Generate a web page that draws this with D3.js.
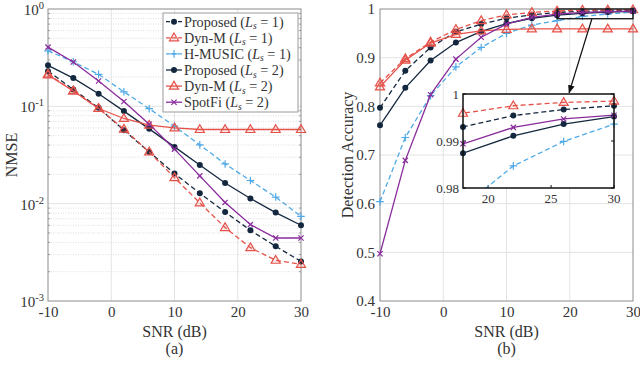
<!DOCTYPE html>
<html><head><meta charset="utf-8">
<script src="https://cdn.jsdelivr.net/npm/d3@7"></script>
<style>
body{margin:0;background:#fff}
svg text{font-family:"Liberation Serif","Times New Roman",serif;fill:#333}
</style></head><body>
<svg id="c" width="640" height="391"></svg>
<script>
const snr = [-10,-6,-2,2,6,10,14,18,22,26,30];
// (a) NMSE
const nmseProp1 = [0.230,0.149,0.0966,0.0569,0.034,0.0204,0.0128,0.0082,0.00532,0.00365,0.00255];
const nmseDyn1  = [0.214,0.144,0.095,0.0583,0.034,0.0185,0.0102,0.00568,0.00353,0.00262,0.00238];
const nmseHM1   = [0.372,0.287,0.213,0.141,0.0946,0.0626,0.0402,0.0256,0.0173,0.0117,0.0074];
const nmseProp2 = [0.264,0.195,0.1345,0.0893,0.0587,0.0383,0.025,0.0163,0.0113,0.0081,0.006];
const nmseDyn2  = [0.210,0.144,0.095,0.075,0.064,0.060,0.0578,0.0578,0.0578,0.0578,0.0578];
const nmseSpot2 = [0.406,0.285,0.182,0.112,0.0656,0.0363,0.0193,0.0103,0.0061,0.00444,0.00444];
// (b) Detection accuracy
const accProp1 = [0.797,0.873,0.921,0.953,0.969,0.981,0.988,0.9930,0.9954,0.9967,0.9975];
const accDyn1  = [0.848,0.898,0.932,0.958,0.976,0.988,0.993,0.9959,0.9975,0.9982,0.9985];
const accHM1   = [0.604,0.736,0.822,0.881,0.921,0.950,0.967,0.976,0.9847,0.9899,0.9936];
const accProp2 = [0.761,0.838,0.894,0.931,0.954,0.970,0.981,0.9874,0.9911,0.9936,0.9952];
const accDyn2  = [0.840,0.895,0.930,0.948,0.955,0.958,0.959,0.959,0.959,0.959,0.959];
const accSpot2 = [0.497,0.689,0.824,0.897,0.942,0.969,0.983,0.9894,0.9929,0.9947,0.9955];

const xTicks = [-10,0,10,20,30];
const yTicksNmse = [1e-3,1e-2,1e-1,1];
const yTicksAcc = [0.4,0.5,0.6,0.7,0.8,0.9,1];
const insetXTicks = [20,25,30];
const insetYTicks = [0.98,0.99,1];

const C = {navy:"#13283f", red:"#e5524a", blue:"#4fa9e6", purple:"#8a2c9c"};
const seriesA = [
  {name:"Proposed", ls:"1", v:nmseProp1, acc:accProp1, color:C.navy, dash:"5,3", mk:"circle"},
  {name:"Dyn-M", ls:"1", v:nmseDyn1, acc:accDyn1, color:C.red, dash:"5,3", mk:"tri"},
  {name:"H-MUSIC", ls:"1", v:nmseHM1, acc:accHM1, color:C.blue, dash:"5,3", mk:"plus"},
  {name:"Proposed", ls:"2", v:nmseProp2, acc:accProp2, color:C.navy, dash:null, mk:"circle"},
  {name:"Dyn-M", ls:"2", v:nmseDyn2, acc:accDyn2, color:C.red, dash:null, mk:"tri"},
  {name:"SpotFi", ls:"2", v:nmseSpot2, acc:accSpot2, color:C.purple, dash:null, mk:"x"}
];

const svg = d3.select("#c");
const defs = svg.append("defs");
const gridC = "#e3e3e3", axC = "#8c8c8c";
const TF = 15, LF = 16;

function marker(g, type, x, y, color, s){
  s = s||1;
  if(type==="circle") g.append("circle").attr("cx",x).attr("cy",y).attr("r",3*s).attr("fill",color);
  else if(type==="tri"){
    const r=4.8*s;
    g.append("path").attr("d",`M${x},${y-r}L${x+r*0.95},${y+r*0.62}L${x-r*0.95},${y+r*0.62}Z`)
      .attr("fill","rgba(229,82,74,0.12)").attr("stroke",color).attr("stroke-width",1.2);
  } else if(type==="plus"){
    const r=3.8*s;
    g.append("path").attr("d",`M${x-r},${y}H${x+r}M${x},${y-r}V${y+r}`).attr("stroke",color).attr("stroke-width",1.2);
  } else if(type==="x"){
    const r=2.6*s;
    g.append("path").attr("d",`M${x-r},${y-r}L${x+r},${y+r}M${x-r},${y+r}L${x+r},${y-r}`).attr("stroke",color).attr("stroke-width",1.2);
  }
}
function drawSeries(g, xs, ys, key){
  const gg = g.append("g");
  seriesA.forEach(s=>{
    const vals = s[key];
    gg.append("path").attr("d",d3.line()(snr.map((d,i)=>[xs(d),ys(vals[i])])))
      .attr("fill","none").attr("stroke",s.color).attr("stroke-width",1.3)
      .attr("stroke-dasharray",s.dash);
    snr.forEach((d,i)=>marker(gg,s.mk,xs(d),ys(vals[i]),s.color));
  });
}

// ---------- (a) ----------
const xL = d3.scaleLinear().domain([-10,30]).range([48,301]);
const yL = d3.scaleLog().domain([1e-3,1]).range([301,9]);
const ga = svg.append("g");
for(let e=-3;e<0;e++) for(let m=2;m<10;m++){
  const v=m*Math.pow(10,e);
  ga.append("line").attr("x1",xL(-10)).attr("x2",xL(30)).attr("y1",yL(v)).attr("y2",yL(v))
    .attr("stroke","#d6d6d6").attr("stroke-dasharray","1,1.5").attr("stroke-width",0.8);
  [xL(-10),xL(30)].forEach((x,k)=>{
    ga.append("line").attr("x1",x).attr("x2",x+(k?-2:2)).attr("y1",yL(v)).attr("y2",yL(v)).attr("stroke",axC).attr("stroke-width",0.8);
  });
}
yTicksNmse.slice(1,-1).forEach(v=>{
  ga.append("line").attr("x1",xL(-10)).attr("x2",xL(30)).attr("y1",yL(v)).attr("y2",yL(v)).attr("stroke",gridC);
});
xTicks.slice(1,-1).forEach(v=>{
  ga.append("line").attr("y1",yL(1e-3)).attr("y2",yL(1)).attr("x1",xL(v)).attr("x2",xL(v)).attr("stroke",gridC);
});
ga.append("rect").attr("x",xL(-10)).attr("y",yL(1)).attr("width",xL(30)-xL(-10)).attr("height",yL(1e-3)-yL(1))
  .attr("fill","none").attr("stroke",axC).attr("stroke-width",1);
const axLb = ga.append("g").attr("transform",`translate(0,${yL(1e-3)})`).call(d3.axisBottom(xL).tickValues(xTicks).tickSize(0).tickPadding(5).tickFormat(d=>d));
axLb.select(".domain").remove();
axLb.selectAll("text").attr("font-size",TF).attr("font-family","Liberation Serif").attr("fill","#333");
yTicksNmse.forEach(v=>{
  const e=Math.round(Math.log10(v));
  const t=ga.append("text").attr("x",xL(-10)-4).attr("y",yL(v)+6).attr("text-anchor","end").attr("font-size",TF);
  t.append("tspan").text("10");
  t.append("tspan").attr("dy",-6).attr("font-size",10.5).text(e);
});
ga.append("text").attr("transform",`translate(17,${(yL(1)+yL(1e-3))/2}) rotate(-90)`).attr("text-anchor","middle").attr("font-size",LF).text("NMSE");
ga.append("text").attr("x",(xL(-10)+xL(30))/2).attr("y",337).attr("text-anchor","middle").attr("font-size",LF).text("SNR (dB)");
ga.append("text").attr("x",(xL(-10)+xL(30))/2).attr("y",354).attr("text-anchor","middle").attr("font-size",LF).text("(a)");
drawSeries(ga,xL,yL,"v");

// legend
const lg = ga.append("g");
lg.append("rect").attr("x",163).attr("y",13).attr("width",135).attr("height",99).attr("fill","#fff").attr("stroke","#9a9a9a").attr("stroke-width",1);
seriesA.forEach((s,i)=>{
  const y=21.7+i*16.1;
  lg.append("line").attr("x1",166).attr("x2",182).attr("y1",y).attr("y2",y).attr("stroke",s.color).attr("stroke-width",1.3).attr("stroke-dasharray",s.dash?"4,2":null);
  marker(lg,s.mk,174,y,s.color);
  const t=lg.append("text").attr("x",184).attr("y",y+5).attr("font-size",14.2).attr("fill","#222");
  t.append("tspan").text(s.name+" (");
  t.append("tspan").attr("font-style","italic").text("L");
  t.append("tspan").attr("font-size",9.5).attr("font-style","italic").attr("dy",2.5).text("s");
  t.append("tspan").attr("dy",-2.5).text(" = "+s.ls+")");
});

// ---------- (b) ----------
const xR = d3.scaleLinear().domain([-10,30]).range([380,633]);
const yR = d3.scaleLinear().domain([0.4,1]).range([301,9]);
const gb = svg.append("g");
yTicksAcc.slice(1,-1).forEach(v=>{
  gb.append("line").attr("x1",xR(-10)).attr("x2",xR(30)).attr("y1",yR(v)).attr("y2",yR(v)).attr("stroke",gridC);
});
xTicks.slice(1,-1).forEach(v=>{
  gb.append("line").attr("y1",yR(0.4)).attr("y2",yR(1)).attr("x1",xR(v)).attr("x2",xR(v)).attr("stroke",gridC);
});
gb.append("rect").attr("x",xR(-10)).attr("y",yR(1)).attr("width",xR(30)-xR(-10)).attr("height",yR(0.4)-yR(1))
  .attr("fill","none").attr("stroke",axC).attr("stroke-width",1);
const axRb = gb.append("g").attr("transform",`translate(0,${yR(0.4)})`).call(d3.axisBottom(xR).tickValues(xTicks).tickSize(0).tickPadding(5).tickFormat(d=>d));
axRb.select(".domain").remove();
axRb.selectAll("text").attr("font-size",TF).attr("font-family","Liberation Serif").attr("fill","#333");
const axRl = gb.append("g").attr("transform",`translate(${xR(-10)},0)`).call(d3.axisLeft(yR).tickValues(yTicksAcc).tickSize(0).tickPadding(5).tickFormat(d=>d===1?"1":d3.format(".1f")(d)));
axRl.select(".domain").remove();
axRl.selectAll("text").attr("font-size",TF).attr("font-family","Liberation Serif").attr("fill","#333");
gb.append("text").attr("transform",`translate(353,${(yR(1)+yR(0.4))/2}) rotate(-90)`).attr("text-anchor","middle").attr("font-size",LF).text("Detection Accuracy");
gb.append("text").attr("x",(xR(-10)+xR(30))/2).attr("y",337).attr("text-anchor","middle").attr("font-size",LF).text("SNR (dB)");
gb.append("text").attr("x",(xR(-10)+xR(30))/2).attr("y",354).attr("text-anchor","middle").attr("font-size",LF).text("(b)");
drawSeries(gb,xR,yR,"acc");

// zoom rectangle and arrow
gb.append("rect").attr("x",xR(18)).attr("y",yR(1)).attr("width",xR(30)-xR(18)).attr("height",yR(0.98)-yR(1))
  .attr("fill","none").attr("stroke","#111").attr("stroke-width",1.3);
defs.append("marker").attr("id","ah").attr("viewBox","0 0 10 10").attr("refX",9).attr("refY",5)
  .attr("markerWidth",7).attr("markerHeight",7).attr("orient","auto")
  .append("path").attr("d","M0,1L10,5L0,9Z").attr("fill","#111");
gb.append("line").attr("x1",xR(23.5)).attr("y1",yR(0.98)).attr("x2",xR(19.9)).attr("y2",yR(0.828))
  .attr("stroke","#111").attr("stroke-width",1.2).attr("marker-end","url(#ah)");

// inset
const xI = d3.scaleLinear().domain([18,30]).range([463,614]);
const yI = d3.scaleLinear().domain([0.98,1]).range([188,94]);
const gi = svg.append("g");
gi.append("rect").attr("x",xI(18)).attr("y",yI(1)).attr("width",xI(30)-xI(18)).attr("height",yI(0.98)-yI(1)).attr("fill","#fff");
defs.append("clipPath").attr("id","ic").append("rect").attr("x",xI(18)).attr("y",yI(1)).attr("width",xI(30)-xI(18)).attr("height",yI(0.98)-yI(1));
insetYTicks.forEach(v=>{
  gi.append("line").attr("x1",xI(18)).attr("x2",xI(18)+3).attr("y1",yI(v)).attr("y2",yI(v)).attr("stroke","#111");
  gi.append("line").attr("x1",xI(30)).attr("x2",xI(30)-3).attr("y1",yI(v)).attr("y2",yI(v)).attr("stroke","#111");
  gi.append("text").attr("x",xI(18)-4).attr("y",yI(v)+4.5).attr("text-anchor","end").attr("font-size",13).text(v===1?"1":d3.format(".2f")(v));
});
insetXTicks.forEach(v=>{
  gi.append("line").attr("x1",xI(v)).attr("x2",xI(v)).attr("y1",yI(0.98)).attr("y2",yI(0.98)-3).attr("stroke","#111");
  gi.append("text").attr("x",xI(v)).attr("y",yI(0.98)+15).attr("text-anchor","middle").attr("font-size",13).text(v);
});
const ic = gi.append("g").attr("clip-path","url(#ic)");
seriesA.forEach(s=>{
  ic.append("path").attr("d",d3.line()(snr.map((d,i)=>[xI(d),yI(s.acc[i])])))
    .attr("fill","none").attr("stroke",s.color).attr("stroke-width",1.3).attr("stroke-dasharray",s.dash);
});
seriesA.forEach(s=>{
  snr.forEach((d,i)=>{ if(d>=18 && s.acc[i]>=0.98) marker(gi,s.mk,xI(d),yI(s.acc[i]),s.color); });
});
gi.append("rect").attr("x",xI(18)).attr("y",yI(1)).attr("width",xI(30)-xI(18)).attr("height",yI(0.98)-yI(1))
  .attr("fill","none").attr("stroke","#111").attr("stroke-width",1.5);
</script></body></html>
